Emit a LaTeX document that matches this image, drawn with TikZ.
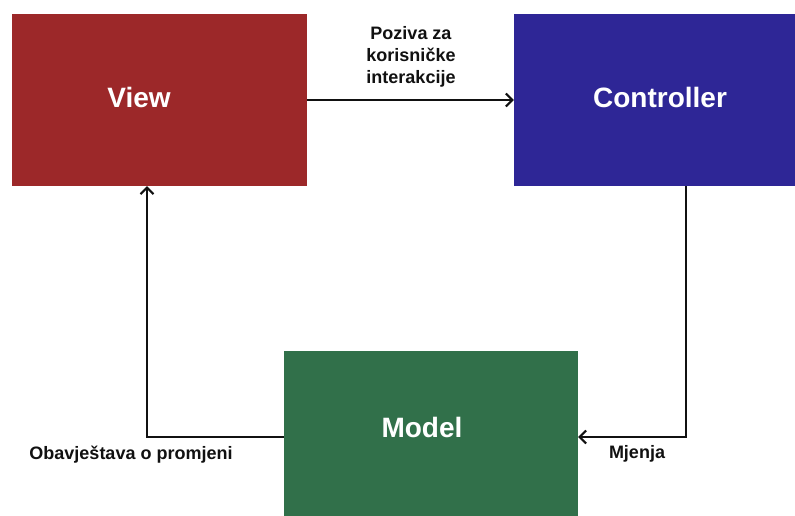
\documentclass[tikz,border=0pt]{standalone}
\usepackage{fontspec}
\setmainfont{Liberation Sans}
\usetikzlibrary{arrows.meta}
\definecolor{viewred}{HTML}{9C2829}
\definecolor{ctrlblue}{HTML}{2E2696}
\definecolor{modelgreen}{HTML}{31704A}
\definecolor{ink}{HTML}{111111}
\tikzset{
  block/.style={draw=none, minimum height=172pt, inner sep=0pt},
  bigtext/.style={text=white, font=\fontsize{28}{32}\selectfont\bfseries, inner sep=0pt},
  smalltext/.style={text=ink, font=\fontsize{18}{22}\selectfont\bfseries, inner sep=0pt, align=center},
  arr/.style={draw=ink, line width=2pt, -{Straight Barb[length=6.5pt,width=13pt,line width=2pt]}},
}
\begin{document}
\begin{tikzpicture}[x=1pt,y=-1pt]
\useasboundingbox (0,0) rectangle (795,515);
\clip (0,0) rectangle (795,515);
\fill[white] (0,0) rectangle (795,515);
\node[block, fill=viewred, minimum width=295pt] (view) at (159.5,100) {};
\node[block, fill=ctrlblue, minimum width=292pt] (controller) at (660,100) {};
\node[block, fill=modelgreen, minimum width=294pt] (model) at (431,437) {};
\node[bigtext] (viewlabel) at (139,97) {View};
\node[bigtext] (controllerlabel) at (660,97) {Controller};
\node[bigtext] (modellabel) at (422,427) {Model};
\draw[arr] (view.east) -- (controller.west);
\draw[arr] ([xshift=26pt]controller.south) |- (model.east);
\draw[arr] (model.west) -| ([xshift=-12.5pt]view.south);
\node[smalltext] (callslabel) at (411,57) {Poziva za\\korisničke\\interakcije};
\node[smalltext] (changeslabel) at (637,454) {Mjenja};
\node[smalltext] (notifylabel) at (131,455) {Obavještava o promjeni};
\end{tikzpicture}
\end{document}
